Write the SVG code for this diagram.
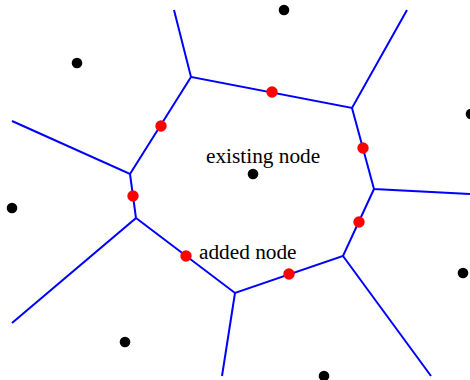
<svg xmlns="http://www.w3.org/2000/svg" width="470" height="380" viewBox="0 0 470 380">
<style>
.e{stroke:#0000ff;stroke-width:2;fill:none;stroke-linejoin:miter}
.s{fill:#000}
.r{fill:#ff0000}
.t{font-family:"Liberation Serif","Times New Roman",serif;font-size:21.3px;fill:#000}
</style>
<rect width="470" height="380" fill="#fff"/>
<g id="edges">
<polyline class="e" points="174,10 191,77 352,108 407,10"/>
<polyline class="e" points="12,121 130,174 191,77"/>
<polyline class="e" points="352,108 374,189 470,194"/>
<polyline class="e" points="130,174 136,218 12,323"/>
<polyline class="e" points="136,218 235,293 343,256 374,189"/>
<polyline class="e" points="343,256 431,376"/>
<polyline class="e" points="235,293 222,376"/>
</g>
<g id="sites">
<circle class="s" cx="77" cy="63" r="5.3"/>
<circle class="s" cx="284" cy="10" r="5.3"/>
<circle class="s" cx="471" cy="114" r="5.3"/>
<circle class="s" cx="12" cy="208" r="5.3"/>
<circle class="s" cx="463" cy="273" r="5.3"/>
<circle class="s" cx="125" cy="342" r="5.3"/>
<circle class="s" cx="324" cy="376" r="5.3"/>
</g>
<g id="existing-node">
<circle class="s" cx="253" cy="174" r="5.3"/>
<text class="t" x="206" y="163">existing node</text>
</g>
<g id="added-node">
<circle class="r" cx="161" cy="126" r="5.7"/>
<circle class="r" cx="272" cy="92" r="5.7"/>
<circle class="r" cx="363" cy="148" r="5.7"/>
<circle class="r" cx="133" cy="196" r="5.7"/>
<circle class="r" cx="359" cy="222" r="5.7"/>
<circle class="r" cx="186" cy="256" r="5.7"/>
<circle class="r" cx="289" cy="274" r="5.7"/>
<text class="t" x="199" y="259">added node</text>
</g>
</svg>
